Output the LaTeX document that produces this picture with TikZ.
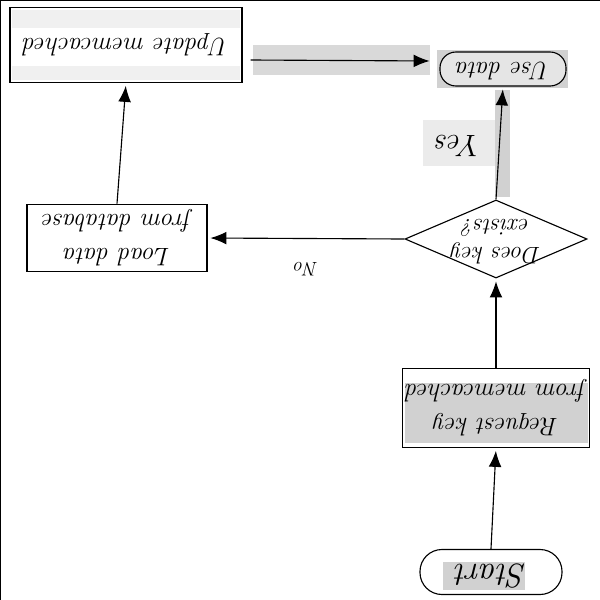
\documentclass[tikz,border=0pt]{standalone}
\usepackage{graphicx}
\usetikzlibrary{shapes.geometric,arrows.meta}

% text written upside down, as on the scanned sheet
\newcommand{\upside}[1]{\rotatebox{180}{\begin{tabular}{@{}c@{}}#1\end{tabular}}}

\begin{document}
\begin{tikzpicture}[x=0.025cm,y=-0.025cm,
	box/.style={draw,thick,inner sep=0pt,font=\itshape\fontsize{18}{24}\selectfont},
	pill/.style={draw,thick,rounded corners=0.4cm,inner sep=0pt},
	link/.style={thick,-{Latex[length=0.4cm,width=0.32cm]},shorten >=2pt},
	scan/.style={fill=black!18}]
	\useasboundingbox (0,0) rectangle (600,600);
	\draw[thick] (0,600) -- (0,0) -- (600,0);

	% grey patches of the scan
	\fill[black!6] (12,10) rectangle (240,28);
	\fill[black!6] (12,66) rectangle (240,80);
	\fill[black!15] (253,45) rectangle (430,75);
	\fill[scan] (437,50) rectangle (568,88);
	\fill[scan] (495,90) rectangle (510,197);
	\fill[scan] (405,383) rectangle (588,443);
	\fill[scan] (443,562) rectangle (525,590);

	% steps
	\node[box,minimum width=5.8cm,minimum height=1.875cm] (upd) at (126,45) {\upside{Update memcached}};
	\node[pill,fill=black!10,minimum width=3.15cm,minimum height=0.85cm,font=\itshape\fontsize{18}{24}\selectfont] (use) at (503,69) {\upside{Use data}};
	\node[diamond,draw,thick,inner sep=0pt,aspect=2.33,minimum width=4.55cm,minimum height=1.95cm,
		label={[font=\itshape\fontsize{17}{20}\selectfont]center:\upside{Does key\\exists?}}] (dk) at (496,239) {};
	\node[box,minimum width=4.5cm,minimum height=1.5cm] (load) at (117,238) {\upside{Load data\\from database}};
	\node[box,minimum width=4.675cm,minimum height=1.975cm] (req) at (496,408) {\upside{Request key\\from memcached}};
	\node[pill,rounded corners=0.55cm,minimum width=3.55cm,minimum height=1.125cm,font=\itshape\fontsize{24}{28}\selectfont] (start) at (491,572) {\upside{Start}};

	% connectors
	\draw[link] (start.north) -- (req.south);
	\draw[link] (req.north) -- (dk.south);
	\draw[link] (dk.north) -- node[left=0.1cm,fill=black!8,minimum width=1.8cm,minimum height=1.125cm,font=\itshape\fontsize{22}{26}\selectfont] (yes) {\upside{Yes}} (use.south);
	\draw[link] (dk.west) -- node[below=0.3cm,font=\itshape\fontsize{14}{16}\selectfont] (no) {\upside{No}} (load.east);
	\draw[link] (load.north) -- (upd.south);
	\draw[link] ([shift={(8,15)}]upd.east) -- ([shift={(-7,-8)}]use.west);
\end{tikzpicture}
\end{document}
